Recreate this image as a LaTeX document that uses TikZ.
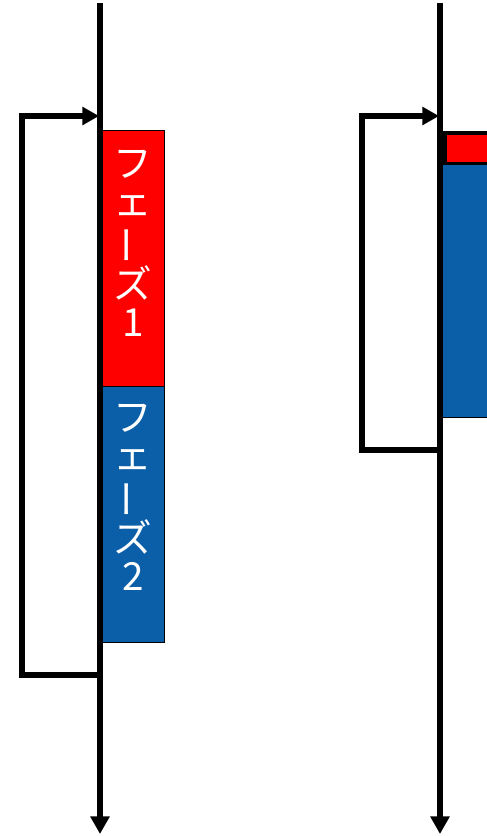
\documentclass[tikz,border=0pt]{standalone}
\usepackage{fontspec}
\usepackage{graphicx}
\newfontfamily\jpfont{Noto Sans CJK JP}
\usetikzlibrary{arrows.meta,positioning}
\definecolor{PhaseRed}{RGB}{255,0,0}
\definecolor{PhaseBlue}{RGB}{11,94,168}
\tikzset{
  flow/.style={line width=3pt,-{Triangle[length=10pt,width=10.5pt]}},
  feedback/.style={line width=3pt,line join=miter,-{Triangle[length=9.5pt,width=10pt]}},
  phasebox/.style={draw=black,line width=0.7pt,minimum width=1.26cm,
    inner sep=0pt,anchor=north west},
  phasetext/.style={text=white,align=center,inner sep=0pt,
    font=\jpfont\fontsize{22}{21.5}\selectfont},
}
\newcommand\phaselabel[1]{フ\\ェ\\\rotatebox[origin=c]{90}{ー}\\ズ\\#1}

\begin{document}
\begin{tikzpicture}[x=0.02cm,y=-0.02cm,>=Latex]
      \clip (0,0) rectangle (487,836);
      % left: two phases
      \node[phasebox,fill=PhaseRed,minimum height=5.12cm] (ph1) at (101,130) {};
      \node[phasebox,fill=PhaseBlue,minimum height=5.12cm] (ph2) at (101,386) {};
      \node[phasetext,yshift=0.3cm] (t1) at (ph1.center) {\phaselabel{1}};
      \node[phasetext,yshift=0.34cm] (t2) at (ph2.center) {\phaselabel{2}};
      \coordinate (lTop) at (100,3);
      \coordinate (lEnd) at (100,834);
      \coordinate (lOut) at (100,675);
      \coordinate (lIn) at (99,116);
      \draw[flow] (lTop) -- (lEnd);
      \draw[feedback] (lOut) -- ++(-78,0) |- (lIn);
      % right: short first phase
      \node[phasebox,fill=PhaseRed,line width=2pt,minimum width=1.1cm,
        minimum height=0.62cm] (rp1) at (443,131) {};
      \node[phasebox,fill=PhaseBlue,minimum width=1.1cm,
        minimum height=5.06cm] (rp2) at (442,164) {};
      \coordinate (rTop) at (440,3);
      \coordinate (rEnd) at (440,834);
      \coordinate (rOut) at (440,450);
      \coordinate (rIn) at (439,116);
      \draw[flow] (rTop) -- (rEnd);
      \draw[feedback] (rOut) -- ++(-78,0) |- (rIn);
    \end{tikzpicture}
\end{document}
